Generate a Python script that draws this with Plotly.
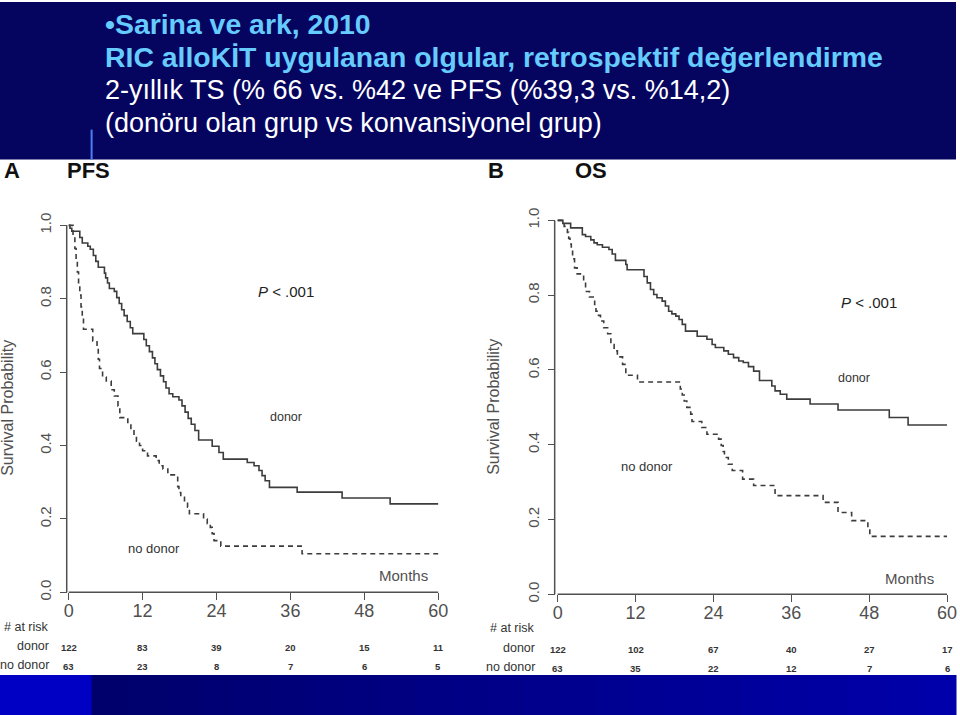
import plotly.graph_objects as go

W, H = 960, 715

# ---------------- data ----------------
months_ticks = [0, 12, 24, 36, 48, 60]
prob_ticks = [0.0, 0.2, 0.4, 0.6, 0.8, 1.0]
prob_ticktext = ["0.0", "0.2", "0.4", "0.6", "0.8", "1.0"]

pfs_donor_t = [0, 0.2, 0.5, 1.8, 2.2, 3.1, 3.5, 4.0, 4.4, 4.8, 5.8, 6.0, 6.3, 6.6, 7.4, 7.8, 8.2, 8.6,
               9.0, 9.5, 10.0, 10.4, 12.2, 12.6, 13.1, 13.6, 14.0, 14.4, 14.9, 15.4, 15.8, 16.3, 16.9,
               17.9, 18.4, 18.9, 19.4, 19.9, 20.5, 21.1, 23.3, 24.4, 25.1, 29.0, 30.1, 30.9, 31.4, 31.9,
               32.6, 37.1, 44.4, 52.2, 60]
pfs_donor_s = [1.0, 0.992, 0.984, 0.967, 0.952, 0.943, 0.935, 0.918, 0.902, 0.886, 0.870, 0.857, 0.843,
               0.828, 0.820, 0.803, 0.787, 0.770, 0.754, 0.738, 0.721, 0.705, 0.689, 0.672, 0.656, 0.639,
               0.623, 0.607, 0.590, 0.574, 0.557, 0.541, 0.533, 0.524, 0.508, 0.491, 0.474, 0.458, 0.441,
               0.415, 0.398, 0.381, 0.363, 0.354, 0.345, 0.332, 0.318, 0.304, 0.286, 0.273, 0.257, 0.241,
               0.241]

pfs_nodonor_t = [0, 0.7, 1.0, 1.2, 1.4, 1.6, 1.8, 2.0, 2.2, 2.4, 3.9, 4.6, 4.8, 5.0, 5.5, 6.1, 6.9, 7.4,
                 8.0, 8.3, 9.6, 10.1, 10.6, 11.0, 11.5, 12.0, 12.8, 14.2, 14.7, 15.3, 16.1, 17.7, 17.9,
                 18.2, 18.8, 19.3, 19.6, 21.9, 22.5, 23.0, 23.3, 23.6, 24.7, 37.9, 60]
pfs_nodonor_s = [1.0, 0.968, 0.937, 0.905, 0.873, 0.841, 0.810, 0.778, 0.746, 0.717, 0.685, 0.667, 0.635,
                 0.610, 0.587, 0.576, 0.552, 0.535, 0.508, 0.476, 0.460, 0.440, 0.425, 0.412, 0.400, 0.386,
                 0.372, 0.359, 0.345, 0.336, 0.320, 0.288, 0.272, 0.259, 0.245, 0.232, 0.214, 0.200, 0.187,
                 0.177, 0.160, 0.141, 0.126, 0.105, 0.105]

os_donor_t = [0, 0.8, 2.0, 3.8, 4.3, 5.1, 5.6, 6.1, 6.9, 7.9, 8.4, 8.9, 10.5, 10.7, 13.3, 13.8, 14.3, 14.8,
              15.3, 16.1, 16.6, 17.1, 17.6, 18.2, 18.7, 19.2, 19.7, 21.5, 23.0, 23.8, 24.3, 25.6, 26.3,
              27.1, 27.9, 28.6, 29.4, 30.2, 31.1, 33.0, 33.5, 34.3, 35.3, 38.9, 43.2, 51.1, 54.0, 60]
os_donor_s = [1.0, 0.992, 0.98, 0.962, 0.957, 0.948, 0.94, 0.935, 0.928, 0.922, 0.91, 0.893, 0.882, 0.868,
              0.85, 0.833, 0.815, 0.802, 0.793, 0.784, 0.771, 0.757, 0.75, 0.744, 0.735, 0.722, 0.704,
              0.690, 0.682, 0.668, 0.660, 0.651, 0.642, 0.633, 0.624, 0.62, 0.609, 0.597, 0.572, 0.557,
              0.544, 0.535, 0.522, 0.509, 0.493, 0.473, 0.453, 0.453]

os_nodonor_t = [0, 1.0, 1.5, 1.7, 1.9, 2.1, 2.3, 2.6, 3.0, 4.0, 4.3, 4.9, 5.7, 5.9, 6.1, 6.6, 7.1, 7.7, 8.2,
                8.7, 9.2, 10.0, 10.5, 12.3, 18.9, 19.2, 19.5, 19.9, 20.5, 20.7, 22.2, 23.0, 24.8, 25.2,
                25.5, 25.7, 26.3, 26.9, 28.5, 30.2, 33.5, 40.9, 43.2, 45.3, 47.8, 48.1, 60]
os_nodonor_s = [1.0, 0.984, 0.968, 0.952, 0.937, 0.921, 0.897, 0.873, 0.857, 0.837, 0.81, 0.795, 0.775,
                0.757, 0.746, 0.731, 0.713, 0.697, 0.668, 0.651, 0.635, 0.615, 0.586, 0.568, 0.549, 0.533,
                0.517, 0.5, 0.482, 0.462, 0.446, 0.428, 0.415, 0.398, 0.382, 0.366, 0.348, 0.331, 0.308,
                0.291, 0.264, 0.246, 0.219, 0.197, 0.175, 0.155, 0.155]

pfs_risk_donor = [122, 83, 39, 20, 15, 11]
pfs_risk_nodonor = [63, 23, 8, 7, 6, 5]
os_risk_donor = [122, 102, 67, 40, 27, 17]
os_risk_nodonor = [63, 35, 22, 12, 7, 6]

title_lines = ["•Sarina ve ark, 2010",
               "RIC alloKİT uygulanan olgular, retrospektif değerlendirme",
               "2-yıllık TS (% 66 vs. %42 ve PFS (%39,3 vs. %14,2)",
               "(donöru olan grup vs konvansiyonel grup)"]

assert len(pfs_donor_t) == len(pfs_donor_s)
assert len(pfs_nodonor_t) == len(pfs_nodonor_s)
assert len(os_donor_t) == len(os_donor_s)
assert len(os_nodonor_t) == len(os_nodonor_s)

# ---------------- layout helpers ----------------
def fx(px):
    return px / W

def fy(py):
    return 1 - py / H

XR = [-2, 61]
YR = [-0.06, 1.03]
SANS = "Liberation Sans, Arial, sans-serif"
NARROW = "Liberation Sans Narrow, Arial Narrow, Liberation Sans, sans-serif"
GRAY = "#505050"
CURVE = "#3c3c3c"

panels = [
    dict(px0=69, px60=440, py0=592, py1=224, yline=67, xa="x", ya="y",
         curves=[(pfs_donor_t, pfs_donor_s, "solid"), (pfs_nodonor_t, pfs_nodonor_s, "5px,4px")],
         risk=[pfs_risk_donor, pfs_risk_nodonor], risk_y=[647, 666], lab_x=51,
         risk_lab_y=[627, 646, 665]),
    dict(px0=560, px60=951, py0=594, py1=219, yline=557, xa="x2", ya="y2",
         curves=[(os_donor_t, os_donor_s, "solid"), (os_nodonor_t, os_nodonor_s, "5px,4px")],
         risk=[os_risk_donor, os_risk_nodonor], risk_y=[649, 668], lab_x=539,
         risk_lab_y=[628, 648, 667]),
]

fig = go.Figure()
shapes = []
annotations = []
layout_axes = {}

for i, p in enumerate(panels):
    sx = (p["px60"] - p["px0"]) / 60.0
    sy = (p["py0"] - p["py1"])
    xdom = [fx(p["px0"] + XR[0] * sx), fx(p["px0"] + XR[1] * sx)]
    ydom = [fy(p["py0"] - YR[0] * sy), fy(p["py0"] - YR[1] * sy)]
    suffix = "" if i == 0 else "2"
    layout_axes["xaxis" + suffix] = dict(
        domain=xdom, range=XR, anchor="free", position=fy(p["py0"]),
        tickmode="array", tickvals=months_ticks, ticktext=[str(m) for m in months_ticks],
        ticks="outside", ticklen=7, tickwidth=1.3, tickcolor=GRAY, ticklabelstandoff=-5,
        showline=False, showgrid=False, zeroline=False,
        tickfont=dict(family=SANS, size=18, color=GRAY), fixedrange=True)
    layout_axes["yaxis" + suffix] = dict(
        domain=ydom, range=YR, anchor="free", position=fx(p["yline"]),
        tickmode="array", tickvals=prob_ticks, ticktext=prob_ticktext, tickangle=-90,
        ticks="outside", ticklen=7, tickwidth=1.3, tickcolor=GRAY, ticklabelstandoff=3,
        showline=False, showgrid=False, zeroline=False,
        tickfont=dict(family=SANS, size=15, color=GRAY), fixedrange=True)
    yline_t = (p["yline"] - p["px0"]) / sx
    # axis lines (R style, spanning the tick range)
    shapes.append(dict(type="line", xref=p["xa"], yref=p["ya"], x0=yline_t, x1=yline_t, y0=0, y1=1,
                       line=dict(color=GRAY, width=1.5)))
    shapes.append(dict(type="line", xref=p["xa"], yref=p["ya"], x0=0, x1=60, y0=0, y1=0,
                       line=dict(color=GRAY, width=1.5)))
    for t, s, dash in p["curves"]:
        fig.add_trace(go.Scatter(x=t, y=s, mode="lines", line_shape="hv",
                                 line=dict(color=CURVE, width=1.6, dash=dash),
                                 xaxis=p["xa"], yaxis=p["ya"], hoverinfo="skip", showlegend=False))
    # number at risk table
    for row, ry in zip(p["risk"], p["risk_y"]):
        for m, n in zip(months_ticks, row):
            annotations.append(dict(x=m, y=fy(ry), xref=p["xa"], yref="paper", text="<b>%d</b>" % n,
                                    showarrow=False, xanchor="center", yanchor="middle",
                                    font=dict(family=NARROW, size=9.5, color="#333")))
    for txt_, ly in zip(["# at risk", "donor", "no donor"], p["risk_lab_y"]):
        annotations.append(dict(x=fx(p["lab_x"]), y=fy(ly), xref="paper", yref="paper", text=txt_,
                                showarrow=False, xanchor="right", yanchor="middle",
                                font=dict(family=NARROW, size=12.5, color="#333")))

# ---------------- header / footer decoration ----------------
NAVY = "#05055f"
shapes.append(dict(type="rect", xref="paper", yref="paper", x0=0, x1=1, y0=fy(158), y1=1,
                   fillcolor=NAVY, line=dict(width=0), layer="below"))
shapes.append(dict(type="line", xref="paper", yref="paper", x0=fx(92), x1=fx(92), y0=fy(158), y1=fy(128),
                   line=dict(color="#4d7ef0", width=2)))
shapes.append(dict(type="rect", xref="paper", yref="paper", x0=0, x1=1, y0=0, y1=fy(675),
                   fillcolor="#00008a", line=dict(width=0), layer="below"))
shapes.append(dict(type="rect", xref="paper", yref="paper", x0=0, x1=fx(92), y0=0, y1=fy(675),
                   fillcolor="#0000c4", line=dict(width=0), layer="below"))
nstrip = 24
for k in range(nstrip):
    a = k / (nstrip - 1)
    b = int(108 + a * 62)
    x0 = 92 + k * (960 - 92) / nstrip
    x1 = 92 + (k + 1) * (960 - 92) / nstrip + 0.5
    shapes.append(dict(type="rect", xref="paper", yref="paper", x0=fx(x0), x1=fx(x1), y0=0, y1=fy(675),
                       fillcolor="rgb(0,0,%d)" % b, line=dict(width=0), layer="below"))

# title lines
title_y = [22, 55, 88, 121]
for k, (line_txt, ty) in enumerate(zip(title_lines, title_y)):
    bold = k < 2
    annotations.append(dict(x=fx(103), y=fy(ty), xref="paper", yref="paper",
                            text=("<b>%s</b>" % line_txt) if bold else line_txt, showarrow=False,
                            xanchor="left", yanchor="middle",
                            font=dict(family=SANS, size=28.4 if bold else 27,
                                      color="#66ccff" if bold else "#ffffff")))

# panel labels and in-plot text
def txt(x, y, s, size, color="#444", anchor="center", family=SANS, angle=0):
    annotations.append(dict(x=fx(x), y=fy(y), xref="paper", yref="paper", text=s, showarrow=False,
                            xanchor=anchor, yanchor="middle", textangle=angle,
                            font=dict(family=family, size=size, color=color)))

txt(2, 169, "<b>A</b>", 22, "#111", "left")
txt(65, 169, "<b>PFS</b>", 22, "#111", "left")
txt(488, 169, "<b>B</b>", 22, "#111", "left")
txt(575, 169, "<b>OS</b>", 22, "#111", "left")

txt(8, 407, "Survival Probability", 16, GRAY, angle=-90)
txt(496, 406, "Survival Probability", 16, GRAY, angle=-90)

txt(287, 290, "<i>P</i> < .001", 15, "#222")
txt(873, 301, "<i>P</i> < .001", 15, "#222")
txt(287, 416, "donor", 12.5, "#333")
txt(858, 377, "donor", 12.5, "#333")
txt(155, 548, "no donor", 13, "#333")
txt(650, 466, "no donor", 13, "#333")
txt(405, 575, "Months", 15, GRAY)
txt(913, 578, "Months", 15, GRAY)

fig.update_layout(
    width=W, height=H, autosize=False,
    margin=dict(l=0, r=0, t=0, b=0),
    paper_bgcolor="white", plot_bgcolor="white",
    shapes=shapes, annotations=annotations, showlegend=False,
    **layout_axes)

fig.write_html("out.html", config={"displayModeBar": False},
               post_script="document.body.style.margin='0px';document.body.style.overflow='hidden';")
